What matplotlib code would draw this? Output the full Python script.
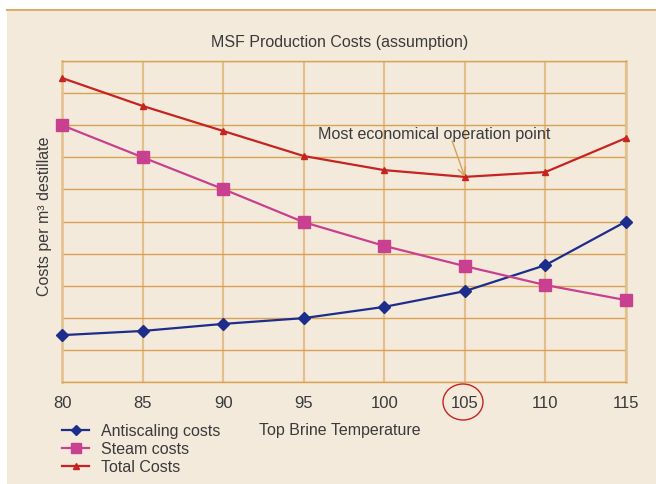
import matplotlib
matplotlib.use("Agg")
import matplotlib.pyplot as plt
from matplotlib.patches import Ellipse, Rectangle
from matplotlib.lines import Line2D

plt.rcParams['font.family'] = ['Liberation Sans', 'DejaVu Sans']

temps = [80, 85, 90, 95, 100, 105, 110, 115]
antiscaling = [1.46, 1.59, 1.81, 1.99, 2.34, 2.83, 3.64, 5.0]
steam = [8.0, 7.0, 6.01, 4.98, 4.24, 3.61, 3.02, 2.55]
total = [9.47, 8.6, 7.82, 7.04, 6.6, 6.39, 6.54, 7.6]
series_labels = ["Antiscaling costs", "Steam costs", "Total Costs"]

BG = "#f4eadc"
HGRID = "#d9a152"
VGRID = "#e3bf8c"
TXT = "#3a3a3a"
NAVY = "#1c2d8a"
MAG = "#c8408f"
RED = "#c62420"

W, H = 656, 484
fig = plt.figure(figsize=(W / 100, H / 100), dpi=100)
fig.patch.set_facecolor(BG)
# white margins on top and left
fig.patches.append(Rectangle((0, 1 - 10 / H), 1, 10 / H, transform=fig.transFigure,
                             facecolor="white", edgecolor="none", zorder=0))
fig.patches.append(Rectangle((0, 0), 7 / W, 1, transform=fig.transFigure,
                             facecolor="white", edgecolor="none", zorder=0))
fig.lines.append(Line2D([7 / W, 1], [1 - 10 / H, 1 - 10 / H], transform=fig.transFigure,
                        color="#dcae6e", lw=1.5))

ax = fig.add_axes([62 / W, 1 - 382 / H, (626 - 62) / W, (382 - 61) / H])
ax.set_zorder(2)
ax.set_facecolor(BG)
ax.set_xlim(80, 115)
ax.set_ylim(0, 10)
ax.set_xticks(temps)
ax.set_yticks(range(0, 11))
ax.set_yticklabels([])
ax.tick_params(axis='y', length=0)
ax.tick_params(axis='x', length=0, pad=10, labelsize=12, labelcolor=TXT)
ax.grid(True, axis='y', color=HGRID, lw=1.0)
ax.grid(True, axis='x', color=VGRID, lw=1.6)
ax.set_axisbelow(True)
for side in ['top', 'bottom']:
    ax.spines[side].set_color(HGRID)
    ax.spines[side].set_linewidth(1.0)
for side in ['left', 'right']:
    ax.spines[side].set_color(VGRID)
    ax.spines[side].set_linewidth(1.8)

l1, = ax.plot(temps, antiscaling, color=NAVY, lw=1.6, marker='D', ms=6.2, clip_on=False, zorder=3)
l2, = ax.plot(temps, steam, color=MAG, lw=1.6, marker='s', ms=8, clip_on=False, zorder=3)
l3, = ax.plot(temps, total, color=RED, lw=1.6, marker='^', ms=4.5, clip_on=False, zorder=3)

ax.text(95.9, 7.7, "Most economical operation point", fontsize=11.6, color=TXT,
        va='center', ha='left')
ax.annotate("", xy=(105, total[5]), xytext=(104.21, 7.51),
            arrowprops=dict(arrowstyle='->', color="#d4a15c", lw=1.0,
                            shrinkA=0, shrinkB=0, mutation_scale=14),
            annotation_clip=False)

fig.text(340 / W, 1 - 43 / H, "MSF Production Costs (assumption)", ha='center', va='center',
         fontsize=11.5, color=TXT)
fig.text(45 / W, 1 - 216 / H, "Costs per m³ destillate", rotation=90, ha='center', va='center',
         fontsize=11.5, color=TXT)
fig.text(340 / W, 1 - 430 / H, "Top Brine Temperature", ha='center', va='center',
         fontsize=11.5, color=TXT)

fig.legend([l1, l2, l3], series_labels, loc='upper left', bbox_to_anchor=(54 / W, 1 - 416 / H),
           frameon=False, fontsize=11.5, labelcolor=TXT, handlelength=1.72,
           labelspacing=0.18, borderpad=0, handletextpad=0.7, markerscale=0.85)

fig.patches.append(Ellipse((463 / W, 1 - 402 / H), 40 / W, 36 / H, transform=fig.transFigure,
                           facecolor='none', edgecolor=RED, lw=1.0, zorder=5))

fig.savefig("out.png", dpi=100, facecolor=fig.get_facecolor())
